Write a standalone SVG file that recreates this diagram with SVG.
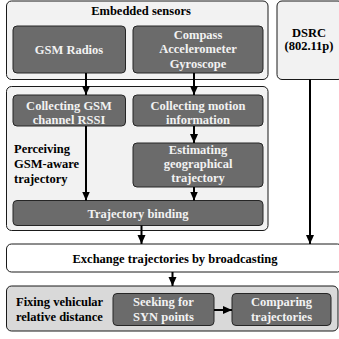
<svg xmlns="http://www.w3.org/2000/svg" width="339" height="339" viewBox="0 0 339 339">
<style>
text{font-family:"Liberation Serif","Times New Roman",serif;font-weight:bold;font-size:12.5px;text-anchor:middle}
.outer{fill:#f2f2f2;stroke:#1a1a1a;stroke-width:1}
.white{fill:#ffffff;stroke:#1a1a1a;stroke-width:1}
.gray{fill:#d9d9d9;stroke:#1a1a1a;stroke-width:1}
.dark{fill:#6b6b6b;stroke:#262626;stroke-width:1}
.lt{fill:#f2f2f2}
.bk{fill:#000}
.st{text-anchor:start}
.c{stroke:#000;stroke-width:2;fill:none;marker-end:url(#ah)}
</style>
<defs>
<marker id="ah" markerUnits="userSpaceOnUse" markerWidth="9" markerHeight="9" viewBox="0 0 9 9" refX="9" refY="4.5" orient="auto">
<path d="M0,0.5 L9,4.5 L0,8.5 Z" fill="#000"/>
</marker>
</defs>
<g id="embedded">
<rect class="outer" x="6.5" y="1" width="261.5" height="78.5" rx="5"/>
<text class="bk" x="141" y="14.5">Embedded sensors</text>
</g>
<g id="perceiving">
<rect class="outer" x="6.5" y="86.5" width="261.5" height="144" rx="5"/>
<text class="bk st" x="14" y="153">Perceiving</text>
<text class="bk st" x="14" y="168">GSM-aware</text>
<text class="bk st" x="14" y="183">trajectory</text>
</g>
<g id="dsrc">
<rect class="outer" x="277" y="1" width="66" height="78.5" rx="5"/>
<text class="bk" x="309" y="37">DSRC</text>
<text class="bk" x="309" y="50">(802.11p)</text>
</g>
<g id="gsm-radios">
<rect class="dark" x="13" y="26" width="112.5" height="47" rx="4"/>
<text class="lt" x="69" y="54">GSM Radios</text>
</g>
<g id="sensors">
<rect class="dark" x="133" y="26" width="130" height="47" rx="4"/>
<text class="lt" x="198" y="38.5">Compass</text>
<text class="lt" x="198" y="53">Accelerometer</text>
<text class="lt" x="198" y="67.5">Gyroscope</text>
</g>
<g id="collect-gsm">
<rect class="dark" x="13" y="95" width="112.5" height="31" rx="4"/>
<text class="lt" x="69" y="110">Collecting GSM</text>
<text class="lt" x="69" y="124">channel RSSI</text>
</g>
<g id="collect-motion">
<rect class="dark" x="133" y="95" width="130" height="31" rx="4"/>
<text class="lt" x="198" y="110">Collecting motion</text>
<text class="lt" x="198" y="124">information</text>
</g>
<g id="estimating">
<rect class="dark" x="133" y="143" width="130" height="44" rx="4"/>
<text class="lt" x="198" y="154">Estimating</text>
<text class="lt" x="198" y="168">geographical</text>
<text class="lt" x="198" y="182">trajectory</text>
</g>
<g id="binding">
<rect class="dark" x="13" y="200.5" width="250" height="25" rx="4"/>
<text class="lt" x="138" y="217.5">Trajectory binding</text>
</g>
<g id="exchange">
<rect class="white" x="6.5" y="244" width="336" height="28" rx="5"/>
<text class="bk" x="175" y="262.5">Exchange trajectories by broadcasting</text>
</g>
<g id="fixing">
<rect class="gray" x="6.5" y="286" width="331.5" height="45" rx="5"/>
<text class="bk st" x="16" y="306">Fixing vehicular</text>
<text class="bk st" x="16" y="321">relative distance</text>
</g>
<g id="seeking">
<rect class="dark" x="113" y="293.5" width="101" height="32" rx="4"/>
<text class="lt" x="163.5" y="306">Seeking for</text>
<text class="lt" x="163.5" y="320.5">SYN points</text>
</g>
<g id="comparing">
<rect class="dark" x="232" y="293.5" width="99" height="32" rx="4"/>
<text class="lt" x="281.5" y="306">Comparing</text>
<text class="lt" x="281.5" y="320.5">trajectories</text>
</g>
<g id="connectors">
<line class="c" x1="86" y1="73" x2="86" y2="95"/>
<line class="c" x1="194" y1="73" x2="194" y2="95"/>
<line class="c" x1="194" y1="126" x2="194" y2="143"/>
<line class="c" x1="86" y1="126" x2="86" y2="200.5"/>
<line class="c" x1="194" y1="187" x2="194" y2="200.5"/>
<line class="c" x1="141.5" y1="225.5" x2="141.5" y2="244"/>
<line class="c" x1="310" y1="79.5" x2="310" y2="244"/>
<line class="c" x1="172.5" y1="272" x2="172.5" y2="286"/>
<line class="c" x1="214" y1="310" x2="232" y2="310"/>
</g>
</svg>
